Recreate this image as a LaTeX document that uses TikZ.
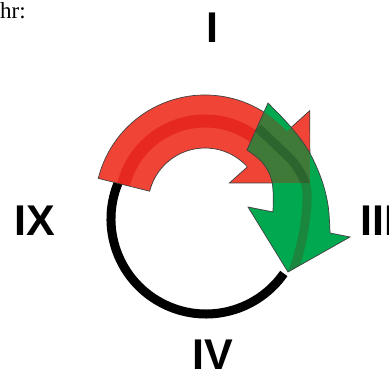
\documentclass[tikz,border=0pt]{standalone}
\usepackage{fontspec}
\setmainfont{Liberation Serif}
\newfontfamily\labfont{Liberation Sans}
\usetikzlibrary{calc}
\definecolor{redlight}{RGB}{239,68,54}
\definecolor{reddark}{RGB}{230,40,32}
\definecolor{grn}{RGB}{0,168,80}
\definecolor{grndark}{RGB}{26,134,62}
\definecolor{olive}{RGB}{63,122,57}
\definecolor{olivedark}{RGB}{44,102,46}
\tikzset{
  lab/.style={font=\labfont\bfseries\fontsize{43}{43}\selectfont, inner sep=0pt},
  outline/.style={draw=black!75, line width=0.7},
}
\def\redpath{($(C)+(194:110)$) arc[start angle=194,end angle=318,radius=110] -- ($(C)+(318:141)$) -- (310,183) -- ($(C)+(318:33)$) -- ($(C)+(318:57)$) arc[start angle=318,end angle=194,radius=57] -- cycle}
\def\greenpath{plot[smooth,tension=0.6] coordinates {(268,103) (290,126) (308,150) (321,178) (328,205) (330,233)} -- (350,237) -- (288,272) -- (248,207) -- plot[smooth,tension=0.6] coordinates {(273,212) (273,190) (270,175) (261,161) (247,150)} -- cycle}
\def\greenstripe{plot[smooth] coordinates {(258,128) (277,146) (294,163) (305,182) (307,200) (304,230) (297,260) (291,276)}}
\begin{document}
\begin{tikzpicture}[x=1pt,y=-1pt]
\useasboundingbox (0,0) rectangle (389,375);
\coordinate (C) at (205,205);
\coordinate (K) at (206,219);
% black circle
\draw[line width=9] ($(K)+(205:95)$) arc[start angle=205,end angle=35,radius=95];
% red arrow
\fill[redlight] \redpath;
\begin{scope}
  \clip \redpath;
  \draw[reddark, line width=13] ($(C)+(194:84)$) arc[start angle=194,end angle=330,radius=84];
\end{scope}
\draw[outline] \redpath;
% green arrow
\fill[grn] \greenpath;
\begin{scope}
  \clip \greenpath;
  \draw[grndark, line width=9] \greenstripe;
\end{scope}
% overlap
\begin{scope}
  \clip \redpath;
  \fill[olive] \greenpath;
  \begin{scope}
    \clip \greenpath;
    \draw[olivedark, line width=9] \greenstripe;
  \end{scope}
\end{scope}
\draw[outline] \greenpath;
% labels
\node[lab] (l1) at (212,28) {I};
\node[lab] (l9) at (35,221) {IX};
\node[lab, anchor=west] (l3) at (360,221) {III};
\node[lab] (l4) at (213,355) {IV};
\node[inner sep=0pt, anchor=base west, font=\fontsize{23}{23}\selectfont] (hr) at (0,18) {hr:};
\end{tikzpicture}
\end{document}
